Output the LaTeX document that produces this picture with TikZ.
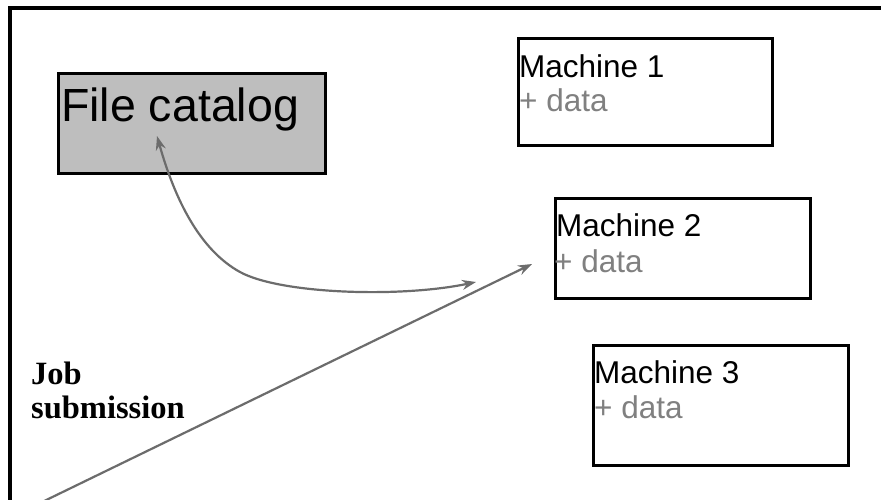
\documentclass[tikz,border=0pt]{standalone}
\usepackage{fontspec}
\setmainfont{Liberation Sans}
\newfontfamily\labelserif{Liberation Serif}
\usetikzlibrary{arrows.meta}
\definecolor{catfill}{RGB}{190,190,190}
\definecolor{linkgray}{RGB}{108,108,108}
\definecolor{datagray}{RGB}{128,128,128}
\tikzset{
  box/.style={draw=black, line width=3pt, inner sep=0pt, rectangle},
  mtitle/.style={anchor=base west, inner sep=0pt, font=\fontsize{31.5}{31.5}\selectfont, text=black},
  mdata/.style={anchor=base west, inner sep=0pt, font=\fontsize{31.5}{31.5}\selectfont, text=datagray},
  joblabel/.style={anchor=base west, inner sep=0pt, font=\labelserif\bfseries\fontsize{32.5}{32.5}\selectfont},
  link/.style={draw=linkgray, line width=2.2pt},
  ctip/.tip={Stealth[length=14pt, width=10pt]},
}
\begin{document}
\begin{tikzpicture}[x=1pt, y=-1pt]
\useasboundingbox (0,0) rectangle (881,499);
\clip (0,0) rectangle (881,499);
\fill[white] (0,0) rectangle (881,499);

% frame along the top and left edges
\draw[line width=3.5pt] (10,520) -- (10,8) -- (890,8);

% file catalog
\node[box, fill=catfill, minimum width=267pt, minimum height=100pt] (cat) at (191.5,123) {};
\node[anchor=base west, inner sep=0pt, font=\fontsize{46.5}{46.5}\selectfont] (catlabel) at (61,121) {File catalog};

% machines
\node[box, minimum width=254pt, minimum height=107pt] (m1) at (645,91.5) {};
\node[mtitle] (m1t) at (519,77) {Machine 1};
\node[mdata] (m1d) at (519,111) {+ data};

\node[box, minimum width=255pt, minimum height=100pt] (m2) at (682.5,248) {};
\node[mtitle] (m2t) at (556,236) {Machine 2};
\node[mdata] (m2d) at (554,272) {+ data};

\node[box, minimum width=255pt, minimum height=120pt] (m3) at (720.5,405) {};
\node[mtitle] (m3t) at (594,383) {Machine 3};
\node[mdata] (m3d) at (594,418) {+ data};

% job submission label
\node[joblabel] (job1) at (31,384) {Job};
\node[joblabel] (job2) at (31,418) {submission};

% connectors
\coordinate (catTip) at (157,136);
\coordinate (bend) at (240,272);
\coordinate (m2Tip) at (476,282);
\coordinate (jobStart) at (36,505);
\coordinate (jobTip) at (532,264);

\draw[link, ctip-ctip] (catTip) .. controls (175,200) and (200,250) .. (bend)
   .. controls (280,294) and (400,298) .. (m2Tip);
\draw[link, -ctip] (jobStart) -- (jobTip);
\end{tikzpicture}
\end{document}
